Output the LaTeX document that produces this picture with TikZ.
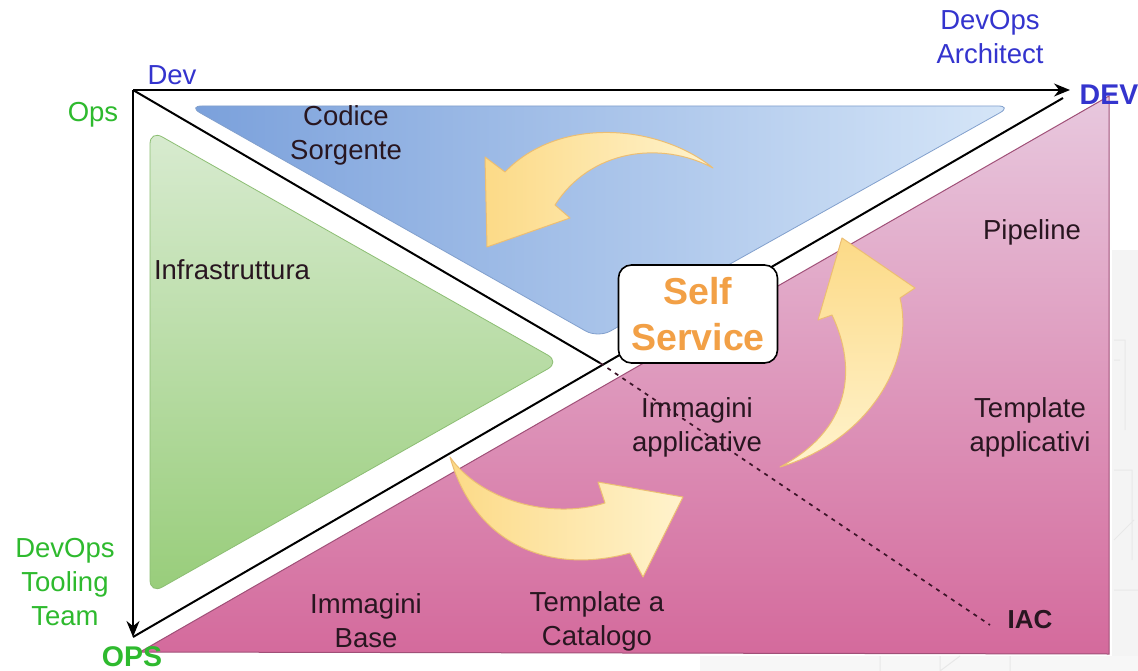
\documentclass[tikz,border=0pt]{standalone}
\usepackage{fontspec}
\setmainfont{Liberation Sans}
\usetikzlibrary{arrows.meta}
\definecolor{devblue}{RGB}{52,52,206}
\definecolor{opsgreen}{RGB}{46,186,46}
\definecolor{ssorange}{RGB}{242,160,70}
\definecolor{txt}{RGB}{40,22,32}
\definecolor{magtop}{RGB}{232,200,222}
\definecolor{magbot}{RGB}{212,106,156}
\definecolor{magedge}{RGB}{160,80,120}
\definecolor{bluel}{RGB}{122,160,219}
\definecolor{bluer}{RGB}{214,230,248}
\definecolor{blueedge}{RGB}{130,160,205}
\definecolor{greent}{RGB}{216,235,208}
\definecolor{greenb}{RGB}{152,205,122}
\definecolor{greenedge}{RGB}{140,190,115}
\definecolor{ylwA}{RGB}{252,218,135}
\definecolor{ylwB}{RGB}{255,243,205}
\definecolor{ylwedge}{RGB}{236,190,115}
\definecolor{dashcol}{RGB}{60,20,40}
\tikzset{
  axisline/.style={line width=2pt,-{Stealth[length=16pt,width=13pt]}},
  divline/.style={line width=2pt},
  lbl/.style={font=\fontsize{27.5}{34}\selectfont,text=txt,align=center,inner sep=0pt},
  bluelbl/.style={lbl,text=devblue},
  greenlbl/.style={lbl,text=opsgreen},
  boldlbl/.style={inner sep=0pt,font=\fontsize{28.5}{34}\selectfont\bfseries},
  ssbox/.style={draw=black,line width=1.6pt,fill=white,rounded corners=13pt,minimum width=159pt,minimum height=98pt,align=center,text=ssorange,font=\fontsize{37.5}{46}\selectfont\bfseries,inner sep=0pt},
  yarrow/.style={draw=ylwedge,line width=1pt,line join=round},
}
\begin{document}
\begin{tikzpicture}[x=1pt,y=-1pt]
\useasboundingbox (0,0) rectangle (1138,671);
\fill[white] (0,0) rectangle (1138,671);
% faint background on the right
\fill[gray!9] (1112,250) rectangle (1138,671);
\fill[gray!6] (700,656) rectangle (1138,671);
\draw[gray!18,line width=1pt] (1114,340) -- (1125,340) -- (1125,430) (1114,360) -- (1120,360) (1114,470) -- (1132,470) -- (1132,560) (1114,540) -- (1134,520) (1114,590) -- (1138,590);
\draw[gray!18,line width=1pt] (880,656) -- (880,671) (940,656) -- (940,671) (940,671) -- (960,656) (1010,656) -- (1010,671);

% coordinates
\coordinate (O) at (133,90);
\coordinate (DevEnd) at (1070,90);
\coordinate (OpsEnd) at (133,637);
\coordinate (Mid) at (600,363);
\coordinate (TR) at (1063,98);
\coordinate (IACend) at (990,625);

% magenta triangle
\path[top color=magtop,bottom color=magbot,draw=magedge,line width=1pt]
  (140,652) -- (1109,96) -- (1109,654) -- cycle;
% blue triangle
\path[left color=bluel,right color=bluer,draw=blueedge,line width=0.8pt,rounded corners=14pt]
  (188,106) -- (1012,106) -- (598,338) -- cycle;
% green triangle
\path[top color=greent,bottom color=greenb,draw=greenedge,line width=0.8pt,rounded corners=14pt]
  (150,130) -- (560,362) -- (150,594) -- cycle;

% divider lines
\draw[divline] (O) -- (Mid);
\draw[divline] (OpsEnd) -- (TR);
\draw[line width=1.7pt,dash pattern=on 4pt off 5pt,draw=dashcol] (Mid) -- (IACend);

% axes
\draw[axisline] (O) -- (DevEnd);
\draw[axisline] (O) -- (OpsEnd);

% yellow curved arrows
\path[yarrow,left color=ylwA,right color=ylwB]
  (713,168) .. controls (660,125) and (560,115) .. (505,172)
  -- (485,157) -- (487,247) -- (570,218) -- (555,205)
  .. controls (590,150) and (660,140) .. (713,168) -- cycle;
\path[yarrow,left color=ylwA,right color=ylwB]
  (450,457) .. controls (475,545) and (550,575) .. (630,553)
  -- (643,577) -- (683,497) -- (598,482) -- (605,503)
  .. controls (550,520) and (480,500) .. (450,457) -- cycle;
\path[yarrow,top color=ylwA,bottom color=ylwB]
  (780,467) .. controls (870,440) and (915,360) .. (900,298)
  -- (915,288) -- (842,238) -- (818,320) -- (832,315)
  .. controls (858,370) and (850,430) .. (780,467) -- cycle;

% self service
\node[ssbox] (ss) at (698,314) {Self\\Service};

% labels
\node[bluelbl] (dev) at (172,75) {Dev};
\node[greenlbl] (ops) at (93,115) {Ops};
\node[bluelbl] (arch) at (990,37) {DevOps\\Architect};
\node[boldlbl,text=devblue] (DEV) at (1109,95) {DEV};
\node[boldlbl,text=opsgreen] (OPS) at (132,657) {OPS};
\node[lbl] (codice) at (346,135) {Codice\\Sorgente};
\node[lbl] (infra) at (232,270) {Infrastruttura};
\node[lbl] (pipe) at (1032,232) {Pipeline};
\node[lbl] (immapp) at (697,427) {Immagini\\applicative};
\node[lbl] (tplapp) at (1030,427) {Template\\applicativi};
\node[lbl] (immbase) at (366,621) {Immagini\\Base};
\node[lbl] (tplcat) at (597,621) {Template a\\Catalogo};
\node[greenlbl] (team) at (65,582) {DevOps\\Tooling\\Team};
\node[boldlbl,text=txt,font=\fontsize{26}{30}\selectfont\bfseries] (iac) at (1030,620) {IAC};
\end{tikzpicture}
\end{document}
